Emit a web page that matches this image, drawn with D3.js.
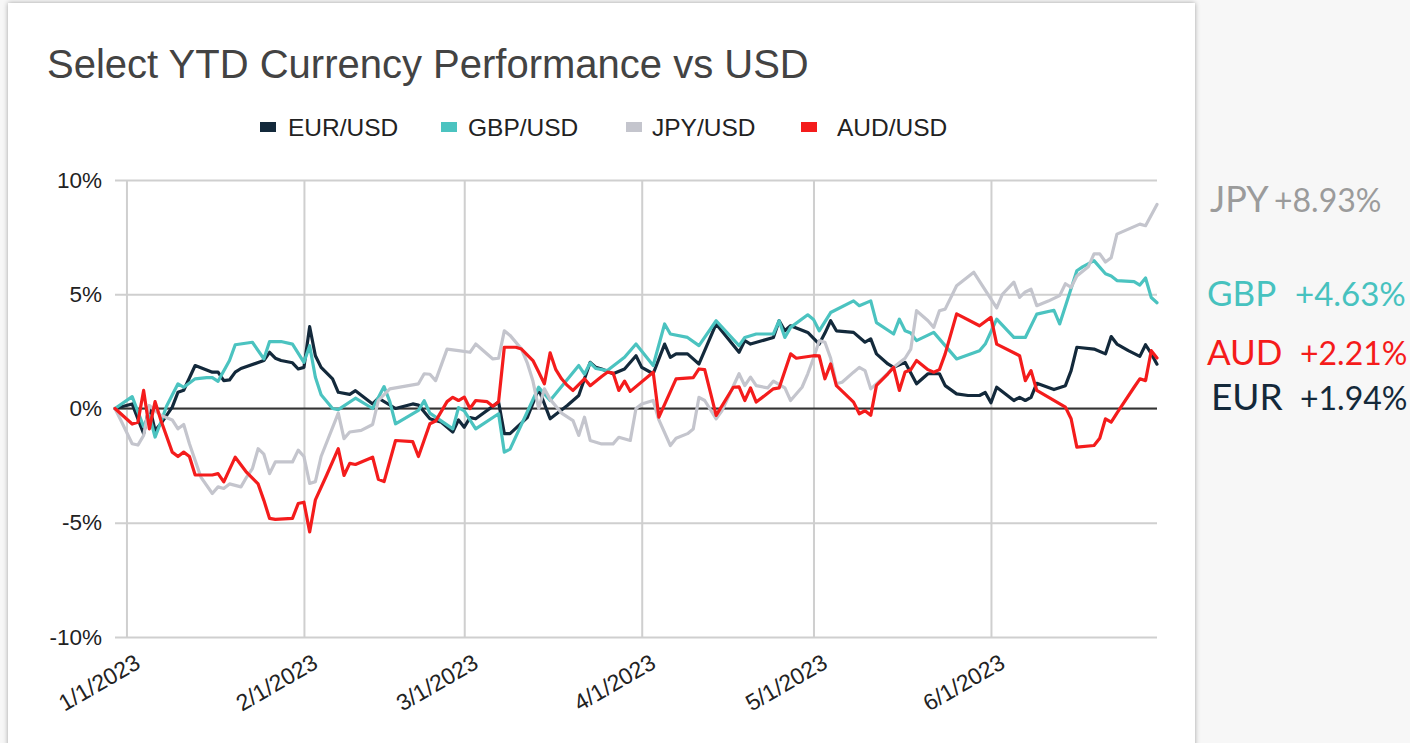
<!DOCTYPE html>
<html><head><meta charset="utf-8">
<script src="https://cdn.jsdelivr.net/npm/d3@7"></script>
<style>
html,body{margin:0;padding:0;background:#f7f7f7;overflow:hidden;}
svg{display:block;}
</style></head><body>
<svg id="chart" width="1410" height="743"></svg>
<script>
// ---- DATA (percent change vs USD, day offsets from 2022-12-30) ----
const baseDate = new Date(2022, 11, 30);
const endDate = new Date(2023, 5, 30);

const eurDays = [0,3,5,6,7,8,10,11,12,14,17,18,19,20,21,22,26,27,28,29,31,32,33,34,35,36,38,39,41,42,45,46,49,52,53,55,57,59,60,61,62,63,67,68,69,72,74,76,79,81,83,84,85,87,89,91,92,94,96,97,98,100,102,105,109,110,111,115,116,117,118,121,123,124,125,126,129,131,132,133,135,136,138,140,142,144,145,147,149,151,152,153,154,157,158,159,160,161,164,166,167,168,171,173,174,175,177,179,180,181,182];
const eurValues = [0,0.2,-1.1,0.1,-0.96,-0.67,0.06,0.71,0.8,1.88,1.59,1.59,1.22,1.25,1.59,1.75,2.1,2.46,2.2,2.1,2.0,1.73,1.8,3.58,2.31,1.8,1.3,0.71,0.62,0.78,0.2,0.45,0.0,0.2,0.15,-0.45,-0.6,-1.03,-0.5,-0.82,-0.4,-0.45,0.28,-1.1,-1.1,-0.4,0.86,-0.45,0.13,0.57,2.02,1.8,1.73,1.52,1.73,2.31,1.8,1.52,2.82,2.24,2.39,2.39,1.95,3.7,2.46,2.97,2.82,3.11,3.84,3.4,3.62,3.33,2.82,3.3,3.84,3.4,3.33,2.9,3.05,2.39,1.95,1.8,2.02,1.08,1.52,1.52,1.0,0.64,0.57,0.57,0.7,0.25,0.93,0.35,0.49,0.35,0.49,1.1,0.83,1.0,1.66,2.68,2.6,2.39,3.15,2.82,2.53,2.28,2.79,2.4,1.94];

const gbpDays = [0,3,5,6,7,8,9,11,12,14,16,17,18,20,21,24,26,27,29,31,33,34,35,36,38,39,42,45,47,48,49,53,54,55,59,60,61,63,67,68,69,74,76,81,82,83,84,86,89,91,94,96,97,100,102,105,109,110,112,115,116,117,118,121,122,123,125,129,130,132,133,136,137,138,139,140,143,147,151,152,154,157,159,161,164,165,168,169,171,173,174,175,178,179,180,181,182];
const gbpValues = [0,0.52,-0.8,-0.3,-1.25,-0.6,0.1,1.08,0.93,1.3,1.35,1.35,1.19,2.1,2.79,2.9,2.17,2.93,2.93,2.82,2.02,2.75,1.37,0.6,0.0,-0.05,0.45,0.0,0.96,0.3,-0.67,-0.08,0.34,-0.2,-0.89,0.04,-0.1,-0.89,-0.23,-1.91,-1.78,0.93,0.35,1.88,1.5,2.0,1.75,1.66,2.24,2.82,1.88,3.7,3.26,3.11,2.75,3.84,2.75,3.11,3.26,3.26,3.84,3.11,3.55,4.1,3.9,3.4,4.2,4.71,4.5,4.71,3.76,3.26,3.91,3.4,3.3,2.97,3.33,2.17,2.53,2.82,3.91,3.11,3.11,4.13,4.3,3.7,6.03,6.2,6.47,5.9,5.8,5.6,5.55,5.4,5.71,4.86,4.63];

const jpyDays = [0,1,3,4,5,6,8,10,11,12,13,15,17,18,19,20,22,23,24,25,26,27,28,31,32,33,34,35,36,39,40,41,43,45,46,48,53,54,55,56,58,60,62,63,66,67,68,69,71,72,73,74,75,76,78,80,81,82,83,85,87,88,90,91,92,94,95,97,98,100,101,102,103,105,106,109,110,111,112,114,115,117,118,120,121,122,123,124,125,126,127,129,130,131,132,134,136,138,139,140,142,143,144,145,147,150,154,155,157,158,159,160,161,163,165,166,167,168,170,171,172,173,174,175,177,179,180,182];
const jpyValues = [0,-0.5,-1.54,-1.6,-1.18,0.13,-0.3,-0.5,-0.89,-0.7,-1.54,-3.0,-3.72,-3.43,-3.5,-3.3,-3.43,-3.0,-2.63,-1.76,-2.0,-2.85,-2.34,-2.34,-1.82,-2.1,-3.28,-3.2,-2.1,-0.2,-1.32,-1.03,-0.96,-0.7,0.35,0.86,1.08,1.52,1.5,1.22,2.6,2.53,2.46,2.82,2.17,2.2,3.4,3.2,2.6,2.0,1.2,0.0,0.86,0.4,-0.2,-0.53,-1.18,-0.38,-1.4,-1.55,-1.55,-1.26,-1.4,0.0,0.2,0.35,-0.5,-1.62,-1.3,-1.1,-0.9,0.49,0.35,-0.45,-0.1,1.52,1.0,1.37,1.0,0.9,1.2,0.9,0.35,0.93,1.52,2.2,2.97,2.9,2.2,1.08,1.15,1.59,1.8,1.66,0.86,1.3,1.8,2.2,2.6,4.28,3.84,3.55,4.28,4.35,5.37,5.96,4.4,5.0,5.53,4.86,5.1,5.22,4.5,4.7,4.94,5.46,5.3,5.8,6.2,6.77,6.77,6.41,6.6,7.63,7.85,8.07,8.0,8.93];

const audDays = [0,3,4,5,6,7,8,10,11,12,13,14,17,18,19,21,23,25,26,27,28,31,32,33,34,35,37,39,40,41,42,45,46,47,49,52,53,55,56,58,59,60,61,62,63,65,66,67,68,70,71,73,74,75,76,77,78,79,80,82,83,85,86,87,88,89,90,94,95,98,101,102,103,105,108,109,110,111,112,115,116,118,119,122,123,124,125,126,129,130,131,132,133,135,136,137,138,139,140,142,143,144,145,147,151,153,154,158,159,160,161,166,167,168,171,172,173,174,175,178,179,180,181,182];
const audValues = [0,-0.68,-0.6,0.79,-0.89,0.3,-0.5,-1.91,-2.1,-1.91,-2.1,-2.91,-2.91,-2.85,-3.21,-2.13,-2.8,-3.3,-4.02,-4.81,-4.85,-4.81,-4.16,-4.1,-5.4,-4.0,-2.9,-1.76,-2.93,-2.4,-2.45,-2.13,-3.1,-3.2,-1.4,-1.45,-2.1,-0.67,-0.55,0.3,0.49,0.35,0.5,0.0,0.35,0.3,0.1,0.3,2.68,2.68,2.6,2.1,1.6,1.08,2.44,1.7,1.3,1.01,0.79,1.3,1.0,1.4,1.59,1.55,0.79,1.2,0.75,1.59,-0.38,1.3,1.35,1.73,1.7,-0.3,0.93,0.95,0.35,0.9,0.28,0.86,0.9,2.39,2.2,2.31,2.3,1.3,1.95,1.0,0.28,-0.23,-0.1,-0.3,1.01,1.52,1.8,0.79,1.6,1.7,2.1,1.7,1.59,1.7,2.39,4.14,3.62,3.99,2.82,2.31,1.22,1.66,0.79,0.06,-0.45,-1.69,-1.62,-1.3,-0.45,-0.6,-0.2,0.93,1.3,1.22,2.53,2.21];

const seriesNames = ["EUR/USD", "GBP/USD", "JPY/USD", "AUD/USD"];
const yTickValues = [-10, -5, 0, 5, 10];
const xTickLabels = ["1/1/2023", "2/1/2023", "3/1/2023", "4/1/2023", "5/1/2023", "6/1/2023"];
const endCodes = ["JPY", "GBP", "AUD", "EUR"];
const endChanges = ["+8.93%", "+4.63%", "+2.21%", "+1.94%"];

// ---- STYLE ----
const colors = {"EUR/USD": "#13293b", "GBP/USD": "#4bc3c0", "JPY/USD": "#c4c5cd", "AUD/USD": "#f41c1c"};
const endColors = {"JPY": "#9b9b9b", "GBP": "#47c2bf", "AUD": "#f51b1b", "EUR": "#14293a"};
const sans = "'Liberation Sans', Arial, sans-serif";

const svg = d3.select("#chart");
const defs = svg.append("defs");
const f = defs.append("filter").attr("id", "shadow").attr("x", "-5%").attr("y", "-5%").attr("width", "110%").attr("height", "110%");
f.append("feDropShadow").attr("dx", 0).attr("dy", 0).attr("stdDeviation", 2.5).attr("flood-color", "#000").attr("flood-opacity", 0.35);

svg.append("rect").attr("width", 1410).attr("height", 743).attr("fill", "#f7f7f7");
svg.append("rect").attr("x", 8).attr("y", 3).attr("width", 1187).attr("height", 800).attr("fill", "#fff").attr("filter", "url(#shadow)");

// Title
svg.append("text").attr("x", 47).attr("y", 78)
  .attr("font-family", sans).attr("font-size", 40)
  .attr("fill", "#434343").text("Select YTD Currency Performance vs USD");

// Scales
const x = d3.scaleTime().domain([baseDate, endDate]).range([115, 1157]);
const y = d3.scaleLinear().domain([-10, 10]).range([637, 180]);

// Horizontal grid + y labels
const yAxis = d3.axisLeft(y).tickValues(yTickValues).tickSize(-(1157 - 115)).tickPadding(13).tickFormat(d => d + "%");
const gy = svg.append("g").attr("transform", "translate(115,0)").call(yAxis);
gy.select(".domain").remove();
gy.selectAll("line").attr("stroke", "#cfcfcf").attr("stroke-width", 2);
gy.selectAll("text").attr("font-family", sans).attr("font-size", 22.5).attr("fill", "#222");

// Vertical grid + x labels
const monthTicks = xTickLabels.map(s => d3.timeParse("%m/%d/%Y")(s));
const xAxis = d3.axisBottom(x).tickValues(monthTicks).tickSize(-(637 - 180)).tickFormat((d, i) => xTickLabels[i]);
const gx = svg.append("g").attr("transform", "translate(0,637)").call(xAxis);
gx.select(".domain").remove();
gx.selectAll("line").attr("stroke", "#cfcfcf").attr("stroke-width", 2);
gx.selectAll("text")
  .attr("font-family", sans).attr("font-size", 23).attr("fill", "#222")
  .attr("text-anchor", "end").attr("dy", null).attr("y", 0)
  .attr("transform", "translate(15,30) rotate(-30)");

// Zero line
svg.append("line").attr("x1", 115).attr("x2", 1157).attr("y1", y(0)).attr("y2", y(0))
  .attr("stroke", "#333").attr("stroke-width", 2);

// Lines
const seriesData = [
  {name: "EUR/USD", days: eurDays, values: eurValues},
  {name: "GBP/USD", days: gbpDays, values: gbpValues},
  {name: "JPY/USD", days: jpyDays, values: jpyValues},
  {name: "AUD/USD", days: audDays, values: audValues}
];
const line = d3.line().x(d => x(d[0])).y(d => y(d[1]));
seriesData.forEach(s => {
  const pts = s.days.map((dd, i) => [d3.timeDay.offset(baseDate, dd), s.values[i]]);
  svg.append("path").datum(pts).attr("d", line)
    .attr("fill", "none").attr("stroke", colors[s.name]).attr("stroke-width", 3.2)
    .attr("stroke-linejoin", "round").attr("stroke-linecap", "round");
});

// Legend
const legendX = [260, 441, 626, 801];
const legendTextX = [288, 468, 652, 837];
const lg = svg.append("g");
seriesNames.forEach((n, i) => {
  lg.append("rect").attr("x", legendX[i]).attr("y", 122).attr("width", 16).attr("height", 10).attr("fill", colors[n]);
  lg.append("text").attr("x", legendTextX[i]).attr("y", 135.5)
    .attr("font-family", sans).attr("font-size", 24.5).attr("fill", "#222").text(n);
});

// End annotations
const endY = [212, 306, 365, 410];
const codeX = [1210, 1207, 1207, 1211];
const chgX = [1274, 1295, 1300, 1300];
const codeSize = [36, 35, 35, 37];
const chgSize = [32, 33, 32, 32];
endCodes.forEach((c, i) => {
  svg.append("text").attr("x", codeX[i]).attr("y", endY[i])
    .attr("font-family", "Lato, sans-serif").attr("font-size", codeSize[i]).attr("fill", endColors[c]).text(c);
  svg.append("text").attr("x", chgX[i]).attr("y", endY[i])
    .attr("font-family", "Lato, sans-serif").attr("font-size", chgSize[i]).attr("fill", endColors[c]).text(endChanges[i]);
});
</script>
</body></html>
